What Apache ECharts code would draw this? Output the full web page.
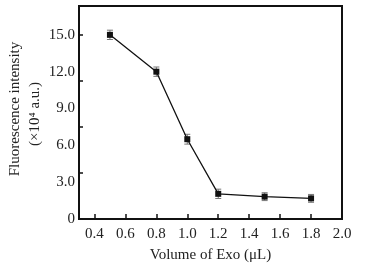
<!DOCTYPE html>
<html>
<head>
<meta charset="utf-8">
<script src="https://cdn.jsdelivr.net/npm/echarts@6/dist/echarts.min.js"></script>
<style>
html,body{margin:0;padding:0;background:#fff;}
#c{width:366px;height:265px;}
</style>
</head>
<body>
<div id="c"></div>
<script>
var volumes = [0.5, 0.8, 1.0, 1.2, 1.5, 1.8];
var intensity = [15.0, 12.0, 6.5, 2.05, 1.82, 1.68];
var errors = [0.38, 0.38, 0.4, 0.38, 0.32, 0.32];
var xTickLabels = [0.4, 0.6, 0.8, 1.0, 1.2, 1.4, 1.6, 1.8, 2.0];
var yTickLabels = [0, 3, 6, 9, 12, 15];
var yTickMarks = [0, 3.75, 7.5, 11.25, 15];
var xTitle = 'Volume of Exo (μL)';
var yTitle1 = 'Fluorescence intensity';
var yTitle2 = '(×10⁴ a.u.)';

var FONT = "'Liberation Serif','Times New Roman',serif";
var chart = echarts.init(document.getElementById('c'), null, {renderer: 'canvas'});

var lineData = volumes.map(function (v, i) { return [v, intensity[i]]; });
var errData = volumes.map(function (v, i) { return [v, intensity[i] - errors[i], intensity[i] + errors[i]]; });

chart.setOption({
  animation: false,
  backgroundColor: '#fff',
  grid: {left: 79, top: 6, right: 24, bottom: 46, outerBoundsMode: 'none', containLabel: false,
    show: true, borderColor: '#111', borderWidth: 2, backgroundColor: 'transparent'},
  xAxis: {
    type: 'value', min: 0.3, max: 2.0,
    axisLine: {show: true, onZero: false, lineStyle: {color: '#111', width: 2}},
    axisTick: {show: true, inside: true, length: 5, customValues: xTickLabels, lineStyle: {color: '#111', width: 1.5}},
    axisLabel: {show: true, customValues: xTickLabels, margin: 8, color: '#222', fontFamily: FONT, fontSize: 15,
      formatter: function (v) { return Number(v).toFixed(1); }},
    splitLine: {show: false},
    name: xTitle, nameLocation: 'middle', nameGap: 29,
    nameTextStyle: {color: '#222', fontFamily: FONT, fontSize: 15}
  },
  yAxis: {
    type: 'value', min: 0, max: 17.35,
    axisLine: {show: true, lineStyle: {color: '#111', width: 2}},
    axisTick: {show: true, inside: true, length: 4, customValues: yTickMarks, lineStyle: {color: '#111', width: 1.5}},
    axisLabel: {show: true, customValues: yTickLabels, margin: 4, color: '#222', fontFamily: FONT, fontSize: 15,
      formatter: function (v) { return v === 0 ? '0' : Number(v).toFixed(1); }},
    splitLine: {show: false}
  },
  graphic: [
    {type: 'text', x: 15, y: 109, rotation: Math.PI / 2,
      style: {text: yTitle1, fill: '#222', font: '15px ' + FONT, textAlign: 'center', textVerticalAlign: 'middle'}},
    {type: 'text', x: 35, y: 114, rotation: Math.PI / 2,
      style: {text: yTitle2, fill: '#222', font: '15px ' + FONT, textAlign: 'center', textVerticalAlign: 'middle'}}
  ],
  series: [
    {
      type: 'custom',
      data: errData,
      z: 1,
      renderItem: function (params, api) {
        var x = api.value(0);
        var lo = api.coord([x, api.value(1)]);
        var hi = api.coord([x, api.value(2)]);
        var w = 3;
        var st = {stroke: '#777', lineWidth: 1};
        return {type: 'group', children: [
          {type: 'line', shape: {x1: lo[0], y1: lo[1], x2: hi[0], y2: hi[1]}, style: st},
          {type: 'line', shape: {x1: lo[0] - w, y1: lo[1], x2: lo[0] + w, y2: lo[1]}, style: st},
          {type: 'line', shape: {x1: hi[0] - w, y1: hi[1], x2: hi[0] + w, y2: hi[1]}, style: st}
        ]};
      }
    },
    {
      type: 'line',
      data: lineData,
      z: 3,
      symbol: 'rect', symbolSize: 6,
      itemStyle: {color: '#111'},
      lineStyle: {color: '#111', width: 1.3}
    }
  ]
});
</script>
</body>
</html>
